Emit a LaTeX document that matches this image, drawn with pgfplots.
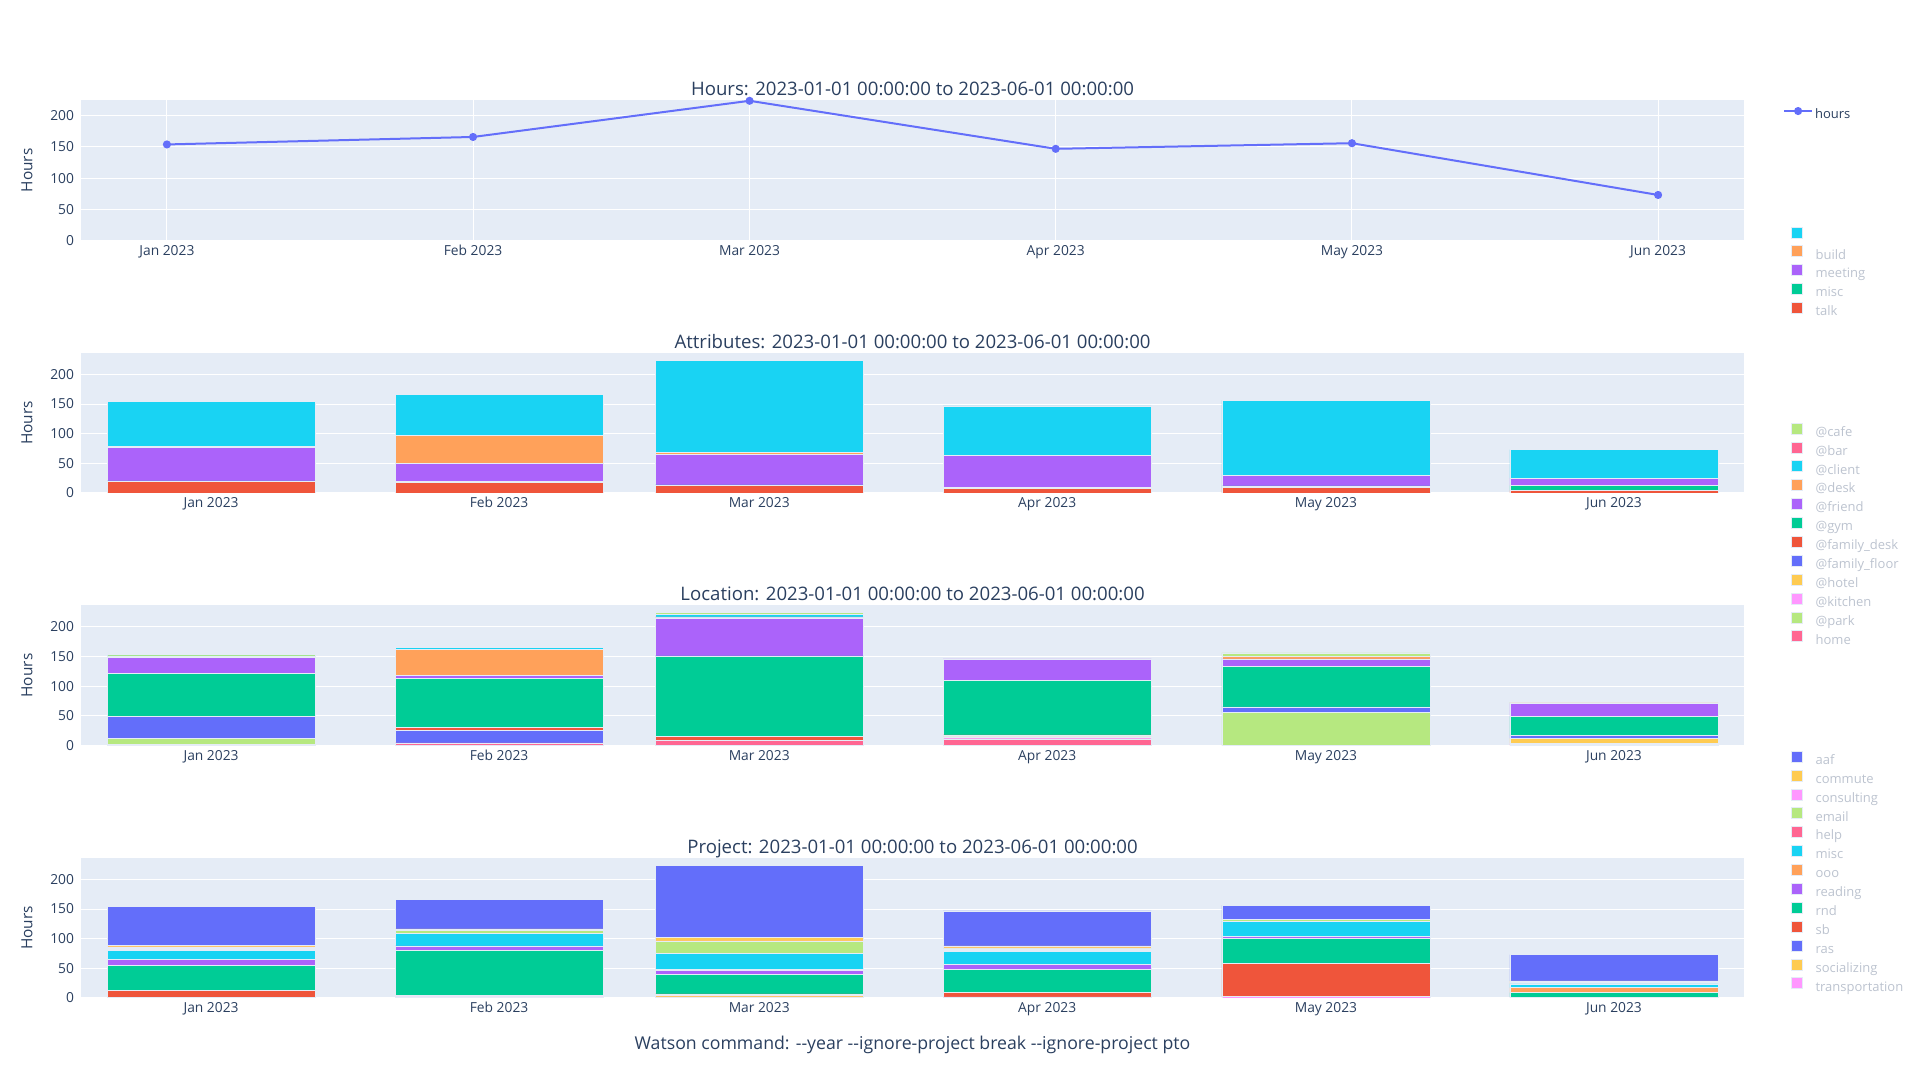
\documentclass[border=0pt]{standalone}
\usepackage{pgfplots}
\pgfplotsset{compat=1.18}
\usepackage{pgfplotstable}
\usepackage{fontspec}
\setmainfont{Open Sans}
\definecolor{ptxt}{HTML}{2A3F5F}
\definecolor{pbg}{HTML}{E5ECF6}
\definecolor{pblue}{HTML}{636EFA}
\definecolor{pred}{HTML}{EF553B}
\definecolor{pgreen}{HTML}{00CC96}
\definecolor{ppurple}{HTML}{AB63FA}
\definecolor{porange}{HTML}{FFA15A}
\definecolor{pcyan}{HTML}{19D3F3}
\definecolor{ppink}{HTML}{FF6692}
\definecolor{plgreen}{HTML}{B6E880}
\definecolor{plpink}{HTML}{FF97FF}
\definecolor{pyellow}{HTML}{FECB52}
\definecolor{blur}{HTML}{BCC3CF}
\def\dd{-\kern0pt-}

\pgfplotstableread{
x h
0 154
31 166
59 224
90 147
120 156
151 73
}\hourtab

\pgfplotstableread{
x a1 a2 a3 a4 a5
0 20 0.5 56.5 2 75
31 18 2 30 47.5 68.5
59 13 0.5 51.5 3 156
90 8 1 54 0 84
120 9.5 2.5 18 0 126
151 4.5 8.5 12 0 48
}\attrtab

\pgfplotstableread{
x l1 l2 l3 l4 l5 l6 l7 l8 l9 l10 l11 l12
0 2 10 0 0.5 36 0.5 73 27 1.5 0.5 0 3
31 4.5 0 0 0 20.5 5 83.5 4.5 43.5 3.5 0 1
59 8 0 0 0 0 7 136 64 2 4 0 3
90 10 1 2.5 1 0.5 3 92 36 0 1 0 0
120 0.5 55 0.5 0 9 0 68 13 4 0 1 5
151 2 0 1.5 8.5 5.5 0 31.5 22 1 0 0 1
}\loctab

\pgfplotstableread{
x p1 p2 p3 p4 p5 p6 p7 p8 p9 p10 p11 p12 p13
0 1.5 0 0 11.5 42 10 0 15.5 1.5 2 2 3 65
31 2 1 0 1 76.5 7.5 0 21 0.5 4 1 2 49.5
59 2 2 1 2 33 6.5 2 27 0 20 1 5.5 122
90 2 0 0 8 38.5 8.5 0 22 1 3 1.5 3.5 59
120 3 0 0 55 43 3.5 0 25 0 3 0.5 0 23
151 1.5 0 0 0 7.5 0 8.5 6.5 0 1 1 3 44
}\projtab

\pgfplotsset{
  plotly/.style={
    scale only axis, width=831.5pt, height=70pt,
    axis background/.style={fill=pbg},
    axis line style={draw=none},
    major tick length=0pt,
    ymajorgrids, grid style={white, line width=0.5pt},
    ymin=0, ytick={0,50,100,150,200},
    tick label style={font=\fontsize{6.9}{8}\selectfont, text=ptxt},
    /pgf/number format/assume math mode=true,
    xtick={0,31,59,90,120,151},
    xticklabels={Jan 2023,Feb 2023,Mar 2023,Apr 2023,May 2023,Jun 2023},
    xticklabel style={anchor=base, yshift=-7.3pt},
    ylabel={Hours},
    ylabel style={font=\fontsize{7.7}{9}\selectfont, text=ptxt, at={(axis description cs:-0.0325,0.5)}, anchor=center},
    title style={font=\fontsize{9.3}{11}\selectfont, text=ptxt, at={(axis description cs:0.5,1)}, anchor=base, yshift=-3.6pt},
    legend cell align=left,
    legend style={draw=none, fill=none, font=\fontsize{6.5}{7.5}\selectfont, inner sep=0pt, outer sep=0pt, anchor=north west,
      nodes={inner sep=0pt, text height=4.5pt, text depth=1.5pt, text=blur}, row sep=1.12pt, column sep=6.5pt},
  },
  barplot/.style={plotly, ybar stacked, bar width=22.4, xmin=-14, xmax=165, ymax=236, reverse legend,
    legend image code/.code={\fill[##1] (0pt,-0.3pt) rectangle (5.5pt,5.2pt);},
    every axis plot/.append style={draw=pbg, line width=0.25pt},
  },
}
\newcommand\sbar[3]{\addplot[fill=#2] table[x=x,y=#1]{#3};}

\begin{document}
\begin{tikzpicture}
\path[use as bounding box] (0pt,0pt) rectangle (960pt,540pt);

% Hours
\begin{axis}[plotly, at={(40.5pt,419.75pt)}, anchor=south west,
  xmin=-8.7, xmax=159.7, ymax=224.5, xmajorgrids, clip=false,
  title={Hours: 2023-01-01 00:00:00 to 2023-06-01 00:00:00},
  legend style={at={(1.0235,0.946)}, column sep=1pt, nodes={text=ptxt}},
  legend image code/.code={\draw[mark repeat=2, mark phase=2, #1] plot coordinates {(0pt,2.25pt) (7pt,2.25pt) (14pt,2.25pt)};},
]
\addplot[pblue, line width=1pt, mark=*, mark size=1.5pt, mark options={fill=pblue}] table[x=x,y=h]{\hourtab};
\addlegendentry{hours}
\end{axis}

% Attributes
\begin{axis}[barplot, at={(40.5pt,293.5pt)}, anchor=south west,
  title={Attributes: 2023-01-01 00:00:00 to 2023-06-01 00:00:00},
  legend style={at={(1.0283,1.903)}},
]
\sbar{a1}{pred}{\attrtab}\addlegendentry{talk}
\sbar{a2}{pgreen}{\attrtab}\addlegendentry{misc}
\sbar{a3}{ppurple}{\attrtab}\addlegendentry{meeting}
\sbar{a4}{porange}{\attrtab}\addlegendentry{build}
\sbar{a5}{pcyan}{\attrtab}\addlegendentry{}
\end{axis}

% Location
\begin{axis}[barplot, at={(40.5pt,167.25pt)}, anchor=south west,
  title={Location: 2023-01-01 00:00:00 to 2023-06-01 00:00:00},
  legend style={at={(1.0283,2.306)}},
]
\sbar{l1}{ppink}{\loctab}\addlegendentry{home}
\sbar{l2}{plgreen}{\loctab}\addlegendentry{@park}
\sbar{l3}{plpink}{\loctab}\addlegendentry{@kitchen}
\sbar{l4}{pyellow}{\loctab}\addlegendentry{@hotel}
\sbar{l5}{pblue}{\loctab}\addlegendentry{@family\_floor}
\sbar{l6}{pred}{\loctab}\addlegendentry{@family\_desk}
\sbar{l7}{pgreen}{\loctab}\addlegendentry{@gym}
\sbar{l8}{ppurple}{\loctab}\addlegendentry{@friend}
\sbar{l9}{porange}{\loctab}\addlegendentry{@desk}
\sbar{l10}{pcyan}{\loctab}\addlegendentry{@client}
\sbar{l11}{ppink}{\loctab}\addlegendentry{@bar}
\sbar{l12}{plgreen}{\loctab}\addlegendentry{@cafe}
\end{axis}

% Project
\begin{axis}[barplot, at={(40.5pt,41pt)}, anchor=south west,
  title={Project: 2023-01-01 00:00:00 to 2023-06-01 00:00:00},
  legend style={at={(1.0283,1.766)}},
  xlabel={Watson command: \dd year \dd ignore-project break \dd ignore-project pto},
  xlabel style={font=\fontsize{8.85}{10}\selectfont, text=ptxt, at={(axis description cs:0.5,0)}, anchor=base, yshift=-25.7pt},
]
\sbar{p1}{plpink}{\projtab}\addlegendentry{transportation}
\sbar{p2}{pyellow}{\projtab}\addlegendentry{socializing}
\sbar{p3}{pblue}{\projtab}\addlegendentry{ras}
\sbar{p4}{pred}{\projtab}\addlegendentry{sb}
\sbar{p5}{pgreen}{\projtab}\addlegendentry{rnd}
\sbar{p6}{ppurple}{\projtab}\addlegendentry{reading}
\sbar{p7}{porange}{\projtab}\addlegendentry{ooo}
\sbar{p8}{pcyan}{\projtab}\addlegendentry{misc}
\sbar{p9}{ppink}{\projtab}\addlegendentry{help}
\sbar{p10}{plgreen}{\projtab}\addlegendentry{email}
\sbar{p11}{plpink}{\projtab}\addlegendentry{consulting}
\sbar{p12}{pyellow}{\projtab}\addlegendentry{commute}
\sbar{p13}{pblue}{\projtab}\addlegendentry{aaf}
\end{axis}
\end{tikzpicture}
\end{document}
